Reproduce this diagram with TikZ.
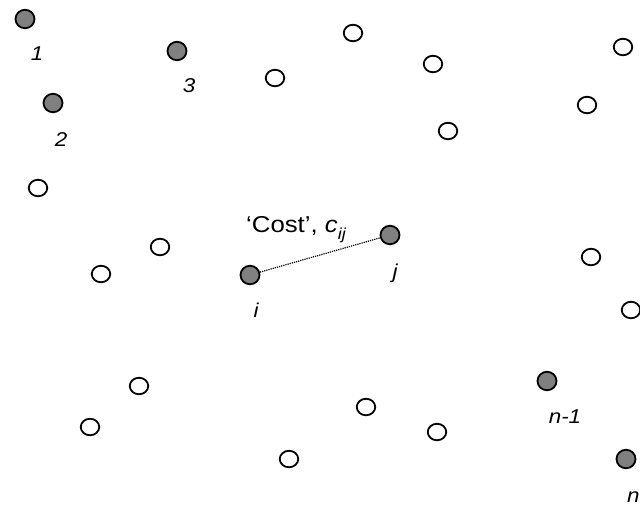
\documentclass[tikz,border=0pt]{standalone}
\usepackage{fontspec}
\usetikzlibrary{shapes.geometric}
\setmainfont{Liberation Sans}
\newfontfamily\widesans[FakeStretch=1.12]{Liberation Sans}
\definecolor{citygray}{RGB}{128,128,128}
\begin{document}
\begin{tikzpicture}[x=1pt,y=-1pt,
  city/.style={ellipse,draw=black,line width=1.8pt,inner sep=0pt},
  chosen/.style={city,fill=citygray,minimum width=19pt,minimum height=18.5pt},
  open/.style={city,fill=white,minimum width=18.5pt,minimum height=16.5pt},
  tag/.style={font=\widesans\fontsize{20}{23}\selectfont\itshape,inner sep=0pt}]
\useasboundingbox (0,0) rectangle (640,507);
% highlighted cities
\node[chosen] (c1) at (25,19) {};
\node[chosen] (c3) at (177,51) {};
\node[chosen] (c2) at (53,103) {};
\node[chosen] (ci) at (250,275) {};
\node[chosen] (cj) at (390,235) {};
\node[chosen] (cm) at (547,381) {};
\node[chosen] (cn) at (626,459) {};
% labels of highlighted cities
\node[tag] (l1) at (37,54) {1};
\node[tag] (l3) at (189,86) {3};
\node[tag] (l2) at (61,140) {2};
\node[tag] (li) at (256,310) {i};
\node[tag] (lj) at (395,273) {j};
\node[tag] (lm) at (565,417) {n-1};
\node[tag,anchor=west] (ln) at (627,497) {n};
% remaining cities
\foreach \p [count=\k] in {(353,33),(433,64),(623,47),(275,78),(587,105),(448,131),
  (38,188),(160,247),(101,274),(591,257),(631,310),(139,386),(366,407),
  (90,427),(437,432),(289,459)}
  \node[open] (o\k) at \p {};
% travel cost between i and j
\draw[densely dotted,line width=1.2pt] (ci) -- (cj);
\node[anchor=base west,inner sep=0pt,font=\widesans\fontsize{23}{26}\selectfont] (cost) at (246,232)
  {‘Cost’, \textit{c}\raisebox{-0.33em}{\fontsize{16}{18}\selectfont\textit{ij}}};
\end{tikzpicture}
\end{document}
